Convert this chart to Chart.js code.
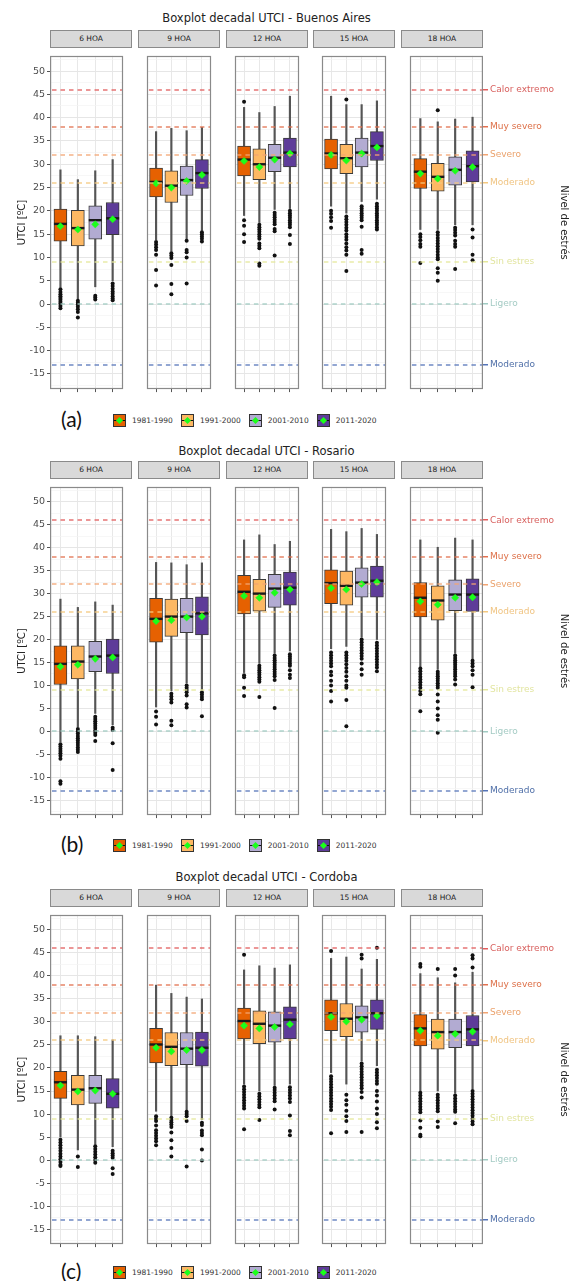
<!DOCTYPE html>
<html>
<head>
<meta charset="utf-8">
<script src="https://cdn.jsdelivr.net/npm/chart.js@4.4.0/dist/chart.umd.min.js"></script>
<style>
    body { margin: 0; background: #fff; width: 571px; height: 1281px; position: relative; overflow: hidden; font-family: "DejaVu Sans", sans-serif; }
    canvas { position: absolute; }
    .title { position: absolute; left: 50px; width: 433px; text-align: center; font-size: 11.5px; color: #222; line-height: 14px; }
    .strip { position: absolute; width: 82px; height: 18px; box-sizing: border-box; background: #d9d9d9; border: 1.2px solid #8a8a8a; font-size: 7.5px; line-height: 16px; text-align: center; color: #1a1a1a; }
    .tag { position: absolute; left: 61px; font-family: Lato, "Open Sans", sans-serif; font-size: 21px; line-height: 24px; color: #111; }
    .legend { position: absolute; left: 113px; display: flex; align-items: center; font-size: 7.5px; color: #333; }
    .legend span.lab { margin: 0 8px 0 6px; }
    .sw { position: relative; display: inline-block; width: 11px; height: 11px; border: 1px solid #333; }
    .sw i { position: absolute; left: 0; right: 0; top: 4.5px; height: 1.5px; background: #111; }
    .sw b { position: absolute; left: 3px; top: 3px; width: 5px; height: 5px; background: #1bff1b; transform: rotate(45deg); }
</style>
</head>
<body>
<script>
const decades = ['1981-1990', '1991-2000', '2001-2010', '2011-2020'];
const hours = ['6 HOA', '9 HOA', '12 HOA', '15 HOA', '18 HOA'];
const cityNames = ['Buenos Aires', 'Rosario', 'Cordoba'];
const panelTags = ['(a)', '(b)', '(c)'];

const yLimits = [-15, 50];
const yTicks = [-15, -10, -5, 0, 5, 10, 15, 20, 25, 30, 35, 40, 45, 50];
const yMinor = [-17.5, -12.5, -7.5, -2.5, 2.5, 7.5, 12.5, 17.5, 22.5, 27.5, 32.5, 37.5, 42.5, 47.5, 52.5];

const levelValues = [46, 38, 32, 26, 9, 0, -13];
const levelLabels = ['Calor extremo', 'Muy severo', 'Severo', 'Moderado', 'Sin estres', 'Ligero', 'Moderado'];

// Buenos Aires: [hour][decade]
const baLow  = [[3.6, 1.1, 3.7, 5.0], [13.8, 11.3, 14.0, 15.8], [19.0, 17.5, 20.3, 20.5], [21.0, 19.5, 22.0, 22.5], [16.0, 16.0, 17.0, 17.0]];
const baQ1   = [[13.5, 12.5, 13.9, 14.9], [23.0, 21.8, 23.3, 24.8], [27.5, 26.7, 28.4, 29.4], [29.0, 28.0, 29.4, 30.8], [24.8, 24.2, 25.5, 26.2]];
const baMed  = [[17.2, 16.3, 18.0, 18.4], [26.2, 25.4, 26.6, 28.1], [31.0, 30.0, 31.4, 32.5], [32.3, 31.3, 32.5, 33.9], [28.4, 27.3, 28.8, 29.6]];
const baQ3   = [[20.4, 20.1, 21.1, 21.8], [29.2, 28.6, 29.6, 31.0], [33.9, 33.3, 34.3, 35.6], [35.4, 34.3, 35.6, 37.0], [31.2, 30.2, 31.6, 32.9]];
const baHigh = [[28.8, 26.7, 28.6, 31.0], [37.0, 37.7, 37.2, 37.9], [42.2, 41.1, 42.4, 44.6], [44.6, 42.8, 42.8, 43.6], [39.8, 39.1, 39.7, 40.1]];
const baMean = [[16.7, 16.0, 17.1, 18.2], [25.9, 25.0, 26.4, 27.7], [30.7, 29.4, 31.0, 32.3], [32.0, 30.8, 32.3, 33.6], [28.0, 26.9, 28.6, 29.4]];
const baOut = [
    [[3.2, 2.6, 2.1, 1.7, 1.3, 0.9, 0.5, 0.1, -0.4, -0.9], [0.7, 0.3, -0.1, -0.6, -1.1, -1.7, -2.9], [1.8, 1.4, 1.0], [4.4, 3.9, 3.3, 2.7, 2.2, 1.7, 1.2, 0.8]],
    [[13.3, 12.8, 12.2, 11.6, 10.6, 7.3, 4.0], [10.9, 10.4, 9.9, 8.4, 4.3, 2.1], [13.6, 11.6, 11.1, 10.0, 4.4], [15.4, 15.0, 14.5, 14.0, 13.4]],
    [[43.4, 18.0, 16.8, 15.0, 13.3], [17.0, 16.5, 16.0, 15.5, 15.0, 14.5, 14.0, 13.0, 12.5, 12.0, 8.7, 8.2], [19.6, 19.1, 18.6, 18.1, 17.6, 17.1, 16.1, 15.6, 10.4], [20.0, 19.5, 19.0, 18.5, 18.0, 17.5, 17.0, 16.5, 14.8, 12.9]],
    [[20.0, 19.4, 18.6, 17.8, 16.4], [43.9, 18.8, 18.2, 17.6, 17.0, 16.4, 15.8, 15.0, 14.4, 13.8, 13.0, 12.2, 11.5, 10.6, 7.1], [21.0, 20.5, 20.0, 19.5, 19.0, 18.5, 18.0, 16.6, 11.6, 10.8], [21.5, 21.0, 20.5, 20.0, 19.5, 19.0, 18.5, 18.0, 17.5, 17.0, 16.5, 16.0]],
    [[15.0, 14.4, 13.7, 12.9, 12.3, 8.8], [41.6, 15.4, 14.8, 14.2, 13.6, 13.0, 12.4, 11.8, 11.2, 10.6, 10.0, 9.6, 7.7, 6.7, 5.0], [16.4, 15.9, 15.3, 14.7, 13.6, 12.9, 12.3, 7.5], [16.0, 14.3, 10.6, 9.4]]
];

// Rosario
const roLow  = [[-2.3, 1.0, 3.9, 1.4], [5.3, 8.8, 10.5, 9.1], [12.8, 14.8, 17.0, 17.5], [18.0, 18.5, 20.5, 20.0], [14.0, 13.5, 17.0, 15.5]];
const roQ1   = [[10.2, 11.4, 13.0, 12.6], [19.4, 20.7, 21.5, 21.0], [25.6, 26.2, 27.0, 27.5], [27.8, 27.5, 29.2, 29.2], [24.9, 24.2, 26.3, 26.1]];
const roMed  = [[14.7, 15.2, 16.3, 16.5], [24.5, 25.0, 25.0, 25.7], [30.4, 30.0, 31.1, 31.3], [32.3, 31.7, 32.4, 32.8], [29.1, 28.5, 29.8, 29.8]];
const roQ3   = [[18.6, 18.6, 19.6, 20.1], [29.0, 28.8, 29.0, 29.3], [34.0, 33.1, 34.2, 34.7], [35.2, 34.9, 35.6, 36.0], [32.4, 31.7, 33.0, 33.2]];
const roHigh = [[28.8, 27.0, 28.2, 27.5], [36.8, 36.7, 36.3, 36.7], [41.7, 42.8, 40.7, 41.4], [44.0, 43.5, 44.2, 42.9], [41.7, 40.1, 42.1, 41.7]];
const roMean = [[14.1, 14.5, 15.8, 16.1], [24.0, 24.2, 24.8, 25.0], [29.5, 29.1, 30.2, 30.9], [31.2, 30.9, 32.1, 32.5], [28.3, 27.6, 29.1, 29.2]];
const roOut = [
    [[-2.8, -3.3, -3.8, -4.3, -4.8, -5.3, -6.0, -10.9, -11.4], [0.5, 0.0, -0.5, -1.0, -1.5, -2.0, -2.5, -3.0, -3.5, -4.0, -4.5], [3.2, 2.7, 2.2, 1.7, 1.2, 0.7, 0.2, -0.3, -0.8, -2.1], [0.8, 0.3, -2.6, -8.4]],
    [[4.3, 3.2, 1.5], [8.2, 7.6, 7.0, 6.3, 2.3, 1.3], [10.0, 9.5, 9.0, 8.5, 7.8, 5.9, 5.2], [8.5, 8.0, 7.5, 7.0, 3.3]],
    [[12.2, 11.8, 9.5, 7.7], [14.3, 13.8, 13.3, 12.8, 12.3, 11.8, 11.3, 10.8, 7.5], [16.5, 16.0, 15.5, 15.0, 14.5, 14.0, 13.5, 13.0, 12.5, 12.0, 11.2, 5.1], [16.8, 16.3, 15.8, 15.3, 14.8, 14.3, 13.3, 12.3, 11.6]],
    [[17.2, 16.6, 16.0, 15.4, 14.8, 14.2, 13.0, 12.2, 11.0, 10.0, 8.8, 6.5], [17.2, 16.6, 16.0, 15.4, 14.6, 13.8, 13.0, 12.0, 11.0, 10.0, 9.5, 6.8, 1.1], [20.0, 19.4, 18.8, 18.2, 17.6, 17.0, 16.4, 15.8, 14.8, 13.5, 12.3], [19.3, 18.7, 18.1, 17.5, 16.9, 16.3, 15.7, 15.1, 14.5, 13.9, 13.1]],
    [[13.7, 13.1, 12.5, 11.9, 11.3, 10.7, 10.1, 9.5, 8.8, 8.1, 4.4], [13.0, 12.5, 12.0, 11.5, 11.0, 10.5, 10.0, 9.5, 8.0, 6.5, 5.0, 3.5, 2.5, -0.3], [16.5, 16.0, 15.5, 15.0, 14.5, 14.0, 13.5, 13.0, 12.5, 12.0, 11.3, 10.2], [15.4, 14.8, 14.2, 13.3, 12.3, 9.6]]
];

// Cordoba
const coLow  = [[5.0, 2.2, 3.4, 2.9], [10.6, 9.5, 10.9, 8.8], [16.5, 15.0, 16.2, 16.5], [19.0, 16.5, 21.5, 20.5], [15.0, 15.0, 14.5, 15.5]];
const coQ1   = [[13.4, 12.0, 12.3, 11.3], [21.1, 20.5, 20.7, 20.4], [26.3, 25.3, 25.6, 26.3], [28.1, 26.8, 27.8, 28.4], [24.8, 24.1, 24.4, 24.8]];
const coMed  = [[16.9, 15.3, 15.6, 14.4], [25.1, 24.6, 24.2, 24.4], [30.2, 29.6, 29.2, 30.5], [31.9, 30.7, 31.0, 31.9], [28.6, 27.8, 27.8, 28.4]];
const coQ3   = [[19.3, 18.4, 18.4, 17.7], [28.6, 27.7, 27.7, 27.8], [33.0, 32.4, 32.2, 33.3], [34.8, 34.0, 33.5, 34.8], [31.6, 30.6, 30.6, 31.4]];
const coHigh = [[27.0, 27.0, 26.8, 26.1], [38.0, 36.2, 35.4, 35.0], [41.3, 42.2, 41.7, 42.4], [43.8, 44.1, 41.5, 43.6], [40.5, 39.6, 38.5, 40.8]];
const coMean = [[16.2, 14.9, 15.1, 14.4], [24.4, 23.6, 23.9, 23.9], [29.2, 28.6, 28.9, 29.5], [31.1, 30.1, 30.5, 31.3], [28.1, 27.0, 27.4, 27.9]];
const coOut = [
    [[4.4, 3.8, 3.2, 2.6, 2.0, 1.4, 0.8, 0.2, -0.4, -1.0, -1.3], [0.8, -1.5], [3.0, 2.4, 1.8, 1.2, 0.6, 0.0, -0.6], [2.0, 1.5, 1.0, 0.5, -1.8, -3.0]],
    [[9.5, 9.0, 8.5, 7.5, 6.5, 5.9, 5.3, 4.7, 4.1, 3.2], [9.2, 8.7, 8.2, 7.7, 7.2, 6.0, 4.3, 2.6, 0.8], [10.5, 10.0, 9.5, 8.5, -1.4], [8.1, 7.6, 6.4, 5.9, 5.4, 2.3, -0.1]],
    [[44.6, 16.0, 15.4, 14.8, 14.2, 13.6, 13.0, 12.4, 11.8, 11.2, 6.7], [14.4, 13.8, 13.2, 12.6, 12.0, 11.5, 8.7], [15.7, 15.2, 14.6, 14.0, 13.4, 12.8, 11.0], [15.8, 15.2, 14.6, 14.0, 13.4, 12.6, 9.7, 6.3, 5.4]],
    [[45.4, 18.2, 17.6, 17.0, 16.4, 15.8, 15.2, 14.6, 14.0, 13.4, 12.8, 12.2, 11.6, 10.9, 5.8], [14.2, 13.0, 12.0, 10.7, 9.5, 8.5, 6.1], [44.6, 43.8, 21.0, 20.4, 19.8, 19.2, 18.6, 18.0, 17.4, 16.8, 16.2, 15.6, 14.8, 13.6, 6.1], [46.1, 19.6, 19.0, 18.4, 17.8, 17.2, 16.6, 15.0, 14.0, 12.7, 11.2, 10.0, 8.2, 6.9]],
    [[42.6, 42.0, 14.6, 14.0, 13.4, 12.8, 12.2, 11.6, 11.0, 10.4, 8.6, 7.0, 5.5, 5.2], [41.5, 14.2, 13.6, 13.0, 12.4, 11.8, 11.2, 10.6, 8.4, 7.2], [41.5, 40.1, 14.0, 13.4, 12.8, 12.2, 11.6, 11.0, 10.5, 8.0], [44.5, 43.8, 41.8, 15.0, 14.4, 13.8, 13.2, 12.6, 12.0, 11.4, 10.8, 10.2, 9.6, 9.0, 8.4, 7.8]]
];

const cities = [
    { low: baLow, q1: baQ1, med: baMed, q3: baQ3, high: baHigh, mean: baMean, out: baOut },
    { low: roLow, q1: roQ1, med: roMed, q3: roQ3, high: roHigh, mean: roMean, out: roOut },
    { low: coLow, q1: coQ1, med: coMed, q3: coQ3, high: coHigh, mean: coMean, out: coOut }
];

// styles and layout
const boxColors = ['#e66101', '#fdb863', '#b2abd2', '#5e3c99'];
const levelLineColors = ['#e25c5c', '#e2704e', '#f2a472', '#f4c87e', '#e4e89a', '#a0cbc2', '#5574b8'];
const levelTextColors = ['#d8605e', '#dd7048', '#eba26c', '#f0c482', '#e2e5a0', '#a4cbc4', '#4f6fa8'];
const facetLefts = [50, 138, 226, 313, 401];
const facetW = 82;
const axisW = 50, rightW = 89, tickH = 6;
const plotTops = [47, 478, 906];
const plotHeights = [345, 340, 341];
const titleTops = [11, 444, 870];
const legendTops = [420, 845, 1272];

Chart.defaults.font.family = '"DejaVu Sans", sans-serif';

const pad = (yLimits[1] - yLimits[0]) * 0.05;
const yMin = yLimits[0] - pad;
const yMax = yLimits[1] + pad;
const allTicks = yMinor.concat(yTicks).sort((a, b) => a - b);
const isMajor = v => yTicks.includes(v);

const panelFrame = {
    id: 'panelFrame',
    afterDatasetsDraw(chart) {
        const { ctx, chartArea: a, scales: { y } } = chart;
        ctx.save();
        ctx.beginPath();
        ctx.rect(a.left, a.top, a.width, a.height);
        ctx.clip();
        ctx.lineWidth = 1.6;
        ctx.setLineDash([4.5, 4]);
        ctx.globalAlpha = 0.85;
        levelValues.forEach((v, i) => {
            const py = Math.round(y.getPixelForValue(v));
            ctx.strokeStyle = levelLineColors[i];
            ctx.beginPath();
            ctx.moveTo(a.left + 2, py);
            ctx.lineTo(a.right, py);
            ctx.stroke();
        });
        ctx.restore();
        ctx.save();
        ctx.strokeStyle = '#8a8a8a';
        ctx.lineWidth = 1.2;
        ctx.strokeRect(a.left + 0.6, a.top + 0.6, a.width - 1.2, a.height - 1.2);
        ctx.restore();
    }
};

function addDiv(cls, text, left, top) {
    const div = document.createElement('div');
    div.className = cls;
    div.textContent = text;
    if (left !== null) div.style.left = left + 'px';
    div.style.top = top + 'px';
    document.body.appendChild(div);
    return div;
}

function makeFacet(d, c, k) {
    const left = k === 0 ? axisW : 0;
    const right = k === hours.length - 1 ? rightW : 0;
    const cv = document.createElement('canvas');
    cv.width = facetW + left + right;
    cv.height = plotHeights[c] + tickH;
    cv.style.left = (facetLefts[k] - left) + 'px';
    cv.style.top = plotTops[c] + 'px';
    document.body.appendChild(cv);

    const xs = decades.map((_, j) => j + 1);
    const outPts = [];
    d.out[k].forEach((vals, j) => vals.forEach(v => outPts.push({ x: j + 1, y: v })));

    const scales = {
        x: {
            type: 'linear', min: 0.4, max: 4.6, offset: false,
            afterBuildTicks: s => { s.ticks = xs.map(v => ({ value: v })); },
            afterFit: s => { s.height = tickH; s.paddingLeft = 0; s.paddingRight = 0; },
            ticks: { display: false },
            border: { display: false },
            grid: { offset: false, color: '#e8e8e8', lineWidth: 1, drawTicks: true, tickLength: 3, tickColor: '#555' }
        },
        y: {
            type: 'linear', position: 'left', min: yMin, max: yMax,
            afterBuildTicks: s => { s.ticks = allTicks.map(v => ({ value: v })); },
            afterFit: s => { s.width = left; s.paddingTop = 0; s.paddingBottom = 0; },
            border: { display: false },
            grid: {
                color: ctx => isMajor(ctx.tick.value) ? '#e6e6e6' : '#f3f3f3',
                lineWidth: ctx => isMajor(ctx.tick.value) ? 1 : 0.7,
                drawTicks: k === 0, tickLength: 3,
                tickColor: ctx => isMajor(ctx.tick.value) ? '#555' : 'rgba(0,0,0,0)',
                tickWidth: 1
            },
            ticks: {
                display: k === 0, autoSkip: false, padding: 2, color: '#4d4d4d', font: { size: 9.5 },
                callback: v => isMajor(v) ? String(v) : ''
            },
            title: { display: k === 0, text: 'UTCI [ºC]', color: '#222', font: { size: 10 }, padding: { top: 16, bottom: 0 } }
        }
    };
    if (right) {
        scales.y2 = {
            type: 'linear', position: 'right', min: yMin, max: yMax,
            afterBuildTicks: s => { s.ticks = levelValues.map(v => ({ value: v })); },
            afterFit: s => { s.width = right; s.paddingTop = 0; s.paddingBottom = 0; },
            border: { display: false },
            grid: {
                drawOnChartArea: false, drawTicks: true, tickLength: 5, lineWidth: 1.5,
                tickColor: ctx => levelLineColors[levelValues.indexOf(ctx.tick.value)]
            },
            ticks: {
                autoSkip: false, padding: 2, font: { size: 9 },
                color: ctx => levelTextColors[levelValues.indexOf(ctx.tick.value)],
                callback: v => levelLabels[levelValues.indexOf(v)]
            },
            title: { display: true, text: 'Nivel de estrés', color: '#222', font: { size: 10 }, padding: { top: 2, bottom: 0 } }
        };
    }

    new Chart(cv, {
        type: 'bar',
        data: {
            datasets: [
                {
                    type: 'bar', order: 4, grouped: false, barThickness: 1.5,
                    data: xs.map((x, j) => ({ x, y: [d.low[k][j], d.high[k][j]] })),
                    backgroundColor: '#555555'
                },
                {
                    type: 'bar', order: 3, grouped: false, barThickness: 13,
                    data: xs.map((x, j) => ({ x, y: [d.q1[k][j], d.q3[k][j]] })),
                    backgroundColor: boxColors, borderColor: '#3a3a3a', borderWidth: 1, borderSkipped: false
                },
                {
                    type: 'scatter', order: 2,
                    data: xs.map((x, j) => ({ x, y: d.med[k][j] })),
                    pointStyle: 'line', pointRadius: 6.5, pointBorderWidth: 2.4, pointBorderColor: '#1a1a1a'
                },
                {
                    type: 'scatter', order: 1, data: outPts,
                    pointStyle: 'circle', pointRadius: 2, pointBorderWidth: 0, pointBackgroundColor: '#111111'
                },
                {
                    type: 'scatter', order: 0,
                    data: xs.map((x, j) => ({ x, y: d.mean[k][j] })),
                    pointStyle: 'rectRot', pointRadius: 3.6, pointBorderWidth: 0.5,
                    pointBackgroundColor: '#1bff1b', pointBorderColor: '#1bff1b'
                }
            ]
        },
        options: {
            responsive: false,
            maintainAspectRatio: false,
            animation: false,
            devicePixelRatio: 1,
            events: [],
            indexAxis: 'x',
            layout: { padding: 0 },
            plugins: { legend: { display: false }, tooltip: { enabled: false } },
            scales
        },
        plugins: [panelFrame]
    });
}

cities.forEach((d, c) => {
    addDiv('title', 'Boxplot decadal UTCI - ' + cityNames[c], null, titleTops[c]);
    hours.forEach((h, k) => {
        addDiv('strip', h, facetLefts[k], plotTops[c] - 17);
        makeFacet(d, c, k);
    });
    addDiv('tag', panelTags[c], null, legendTops[c] - 13);
    const leg = addDiv('legend', '', null, legendTops[c] - 6);
    decades.forEach((dec, j) => {
        const sw = document.createElement('span');
        sw.className = 'sw';
        sw.style.background = boxColors[j];
        sw.innerHTML = '<i></i><b></b>';
        const lab = document.createElement('span');
        lab.className = 'lab';
        lab.textContent = dec;
        leg.appendChild(sw);
        leg.appendChild(lab);
    });
});
</script>
</body>
</html>
